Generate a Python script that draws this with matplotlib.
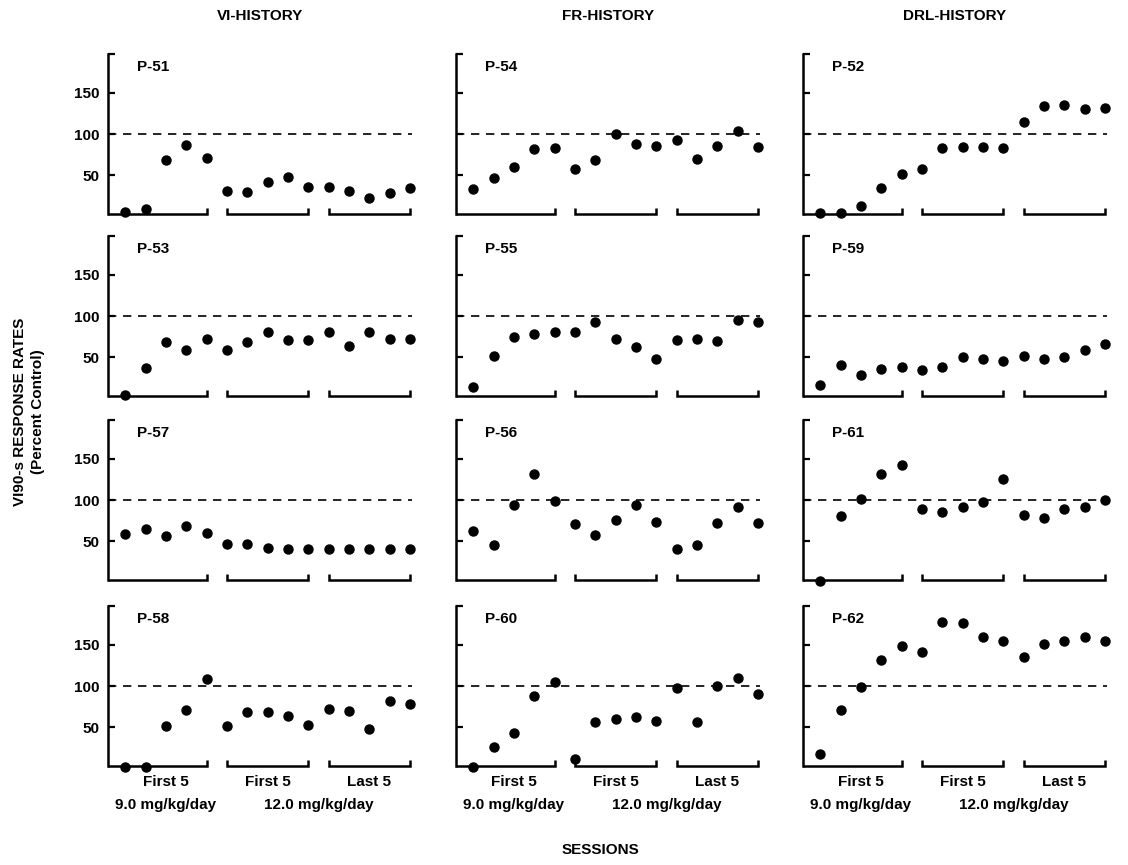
import matplotlib
matplotlib.use("Agg")
import matplotlib.pyplot as plt
import matplotlib.transforms as mtransforms

plt.rcParams['font.family'] = ['Liberation Sans', 'DejaVu Sans']
plt.rcParams['font.weight'] = 'bold'

# Dados
sessoes = list(range(1, 16))
inicio_grupos = [1, 6, 11]
fim_grupos = [5, 10, 15]
rotulos_grupos = ["First 5", "First 5", "Last 5"]
rotulos_doses = ["9.0 mg/kg/day", "12.0 mg/kg/day"]
historias = ["VI-HISTORY", "FR-HISTORY", "DRL-HISTORY"]

p51 = [6, 9, 69, 87, 71, 31, 30, 42, 48, 36, 36, 31, 23, 28, 34]
p54 = [33, 47, 60, 82, 83, 57, 68, 100, 88, 86, 93, 70, 86, 104, 84]
p52 = [4, 4, 13, 34, 51, 57, 83, 84, 84, 83, 114, 134, 135, 130, 131]
p53 = [4, 37, 69, 59, 72, 59, 68, 80, 71, 71, 81, 64, 80, 72, 72]
p55 = [14, 51, 75, 78, 80, 81, 93, 72, 63, 48, 71, 72, 70, 95, 93]
p59 = [16, 40, 29, 36, 38, 34, 38, 50, 48, 46, 51, 48, 50, 59, 66]
p57 = [59, 65, 56, 68, 60, 47, 47, 42, 41, 41, 41, 40, 41, 41, 40]
p56 = [63, 46, 94, 131, 99, 71, 58, 76, 94, 73, 40, 45, 72, 92, 72]
p61 = [2, 80, 101, 132, 142, 89, 85, 91, 98, 125, 82, 78, 89, 91, 100]
p58 = [2, 2, 52, 71, 108, 52, 68, 69, 64, 53, 72, 70, 48, 82, 78]
p60 = [2, 26, 43, 88, 105, 11, 56, 60, 63, 58, 98, 56, 100, 110, 90]
p62 = [18, 71, 99, 132, 148, 141, 178, 176, 160, 155, 135, 151, 154, 160, 154]

paineis = [
    [("P-51", p51), ("P-54", p54), ("P-52", p52)],
    [("P-53", p53), ("P-55", p55), ("P-59", p59)],
    [("P-57", p57), ("P-56", p56), ("P-61", p61)],
    [("P-58", p58), ("P-60", p60), ("P-62", p62)],
]

W, H = 1128, 865
fig = plt.figure(figsize=(W / 100, H / 100), dpi=100)

esquerdas = [108, 456, 803]
largura = 304
bases = [214, 396, 580, 766]
altura = 160

for i, linha in enumerate(paineis):
    for j, (nome, valores) in enumerate(linha):
        ax = fig.add_axes([esquerdas[j] / W, 1 - bases[i] / H, largura / W, altura / H])
        ax.plot(sessoes, valores, 'o', color='black', ms=6.5, clip_on=False, zorder=3)
        ax.axhline(100, color='black', lw=1.2, ls=(0, (5, 4)))
        ax.set_xlim(0.15, 15.1)
        ax.set_ylim(3, 197)
        for lado in ['top', 'right', 'bottom']:
            ax.spines[lado].set_visible(False)
        ax.spines['left'].set_linewidth(1.8)
        ax.set_xticks([])
        ax.set_yticks([50, 100, 150, 197])
        ax.tick_params(axis='y', direction='in', length=5, width=1.6, labelsize=11, pad=6)
        if j == 0:
            ax.set_yticklabels(['50', '100', '150', ''])
        else:
            ax.set_yticklabels([])
        ax.text(0.095, 0.92, nome, transform=ax.transAxes, fontsize=11,
                fontweight='bold', va='center', ha='left')

        # colchetes no eixo x
        trans = mtransforms.blended_transform_factory(ax.transData, ax.transAxes)
        x0 = ax.get_xlim()[0]
        for k, (s, e) in enumerate(zip(inicio_grupos, fim_grupos)):
            if k == 0:
                xs, ys = [x0, e, e], [0, 0, 0.035]
            else:
                xs, ys = [s, s, e, e], [0.035, 0, 0, 0.035]
            ax.plot(xs, ys, color='black', lw=1.8, transform=trans, clip_on=False,
                    solid_capstyle='butt', solid_joinstyle='miter')

        if i == len(paineis) - 1:
            for k, (s, e) in enumerate(zip(inicio_grupos, fim_grupos)):
                ax.text((s + e) / 2, -0.1, rotulos_grupos[k], transform=trans,
                        ha='center', va='center', fontsize=11, fontweight='bold')
            ax.text((inicio_grupos[0] + fim_grupos[0]) / 2, -0.245, rotulos_doses[0],
                    transform=trans, ha='center', va='center', fontsize=11, fontweight='bold')
            ax.text((fim_grupos[1] + inicio_grupos[2]) / 2, -0.245, rotulos_doses[1],
                    transform=trans, ha='center', va='center', fontsize=11, fontweight='bold')

        if i == 0:
            ax.text(0.5, 1.24, historias[j], transform=ax.transAxes, ha='center',
                    va='center', fontsize=11, fontweight='bold')

fig.text(20 / W, 1 - 412 / H, "VI90-s RESPONSE RATES", rotation=90, ha='center',
         va='center', fontsize=11, fontweight='bold')
fig.text(38 / W, 1 - 412 / H, "(Percent Control)", rotation=90, ha='center',
         va='center', fontsize=11, fontweight='bold')
fig.text(600 / W, 1 - 850 / H, "SESSIONS", ha='center', va='center',
         fontsize=11, fontweight='bold')

fig.savefig("out.png", dpi=100)
